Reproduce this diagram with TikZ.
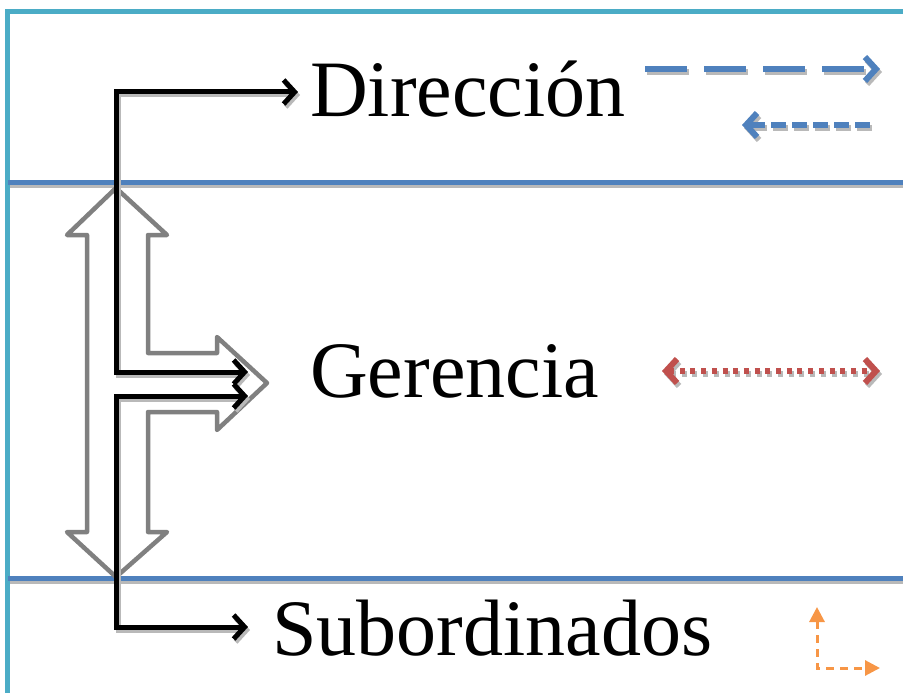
\documentclass[tikz,border=0pt]{standalone}
\usepackage{fontspec}
\setmainfont{Liberation Serif}
\usetikzlibrary{arrows.meta,calc}
\definecolor{frameblue}{HTML}{4BACC6}
\definecolor{bandblue}{HTML}{4F81BD}
\definecolor{dotred}{HTML}{C0504D}
\definecolor{dashorange}{HTML}{F79646}
\tikzset{
  band/.style={draw=bandblue,line width=5pt},
  barb/.tip={Straight Barb[length=11pt,width=24pt]},
  flow/.style={draw=black,line width=5pt,barb-barb},
  block/.style={draw=gray,line width=4.5pt,line join=round},
  levelname/.style={anchor=base west,inner sep=0pt,font=\fontsize{80}{96}\selectfont},
}
\newcommand{\shadowdraw}[2]{
  \draw[#1,draw=gray!55,transform canvas={shift={(2pt,-3pt)}}] #2;% shadow
  \draw[#1] #2;
}
\newcommand{\legendline}[3]{
  \coordinate (#1a) at #2;
  \coordinate (#1b) at #3;
}

\begin{document}
\begin{tikzpicture}[x=1pt,y=-1pt]
  \useasboundingbox (0,0) rectangle (903,693);
  \draw[frameblue,line width=5pt] (7,700) -- (7,12) -- (910,12);% outer frame
  \shadowdraw{band}{(8,182) -- (903,182)}% level borders
  \shadowdraw{band}{(8,578) -- (903,578)}

  % hollow arrow between the levels
  \draw[block] (116,188) -- (167,235) -- (148,235) -- (148,353) -- (217,353) -- (217,337)
    -- (267,383) -- (217,430) -- (217,412) -- (148,412) -- (148,532) -- (167,532)
    -- (116,577) -- (67,532) -- (87,532) -- (87,235) -- (67,235) -- cycle;

  \node[levelname] (dir) at (310,117) {Dirección};
  \node[levelname] (ger) at (310,397) {Gerencia};
  \node[levelname] (sub) at (272,655) {Subordinados};

  \coordinate (spine) at (116,0);
  \coordinate (dtip) at (298,92);
  \coordinate (gtipa) at (248,372);
  \coordinate (gtipb) at (248,396);
  \coordinate (stip) at (248,627);
  \shadowdraw{flow}{(dtip) -- (dtip -| spine) -- (gtipa -| spine) -- (gtipa)}
  \shadowdraw{flow}{(gtipb) -- (gtipb -| spine) -- (stip -| spine) -- (stip)}

  % legend arrows on the right
  \legendline{long}{(645,69)}{(880,69)}
  \legendline{short}{(870,125)}{(742,125)}
  \legendline{dots}{(662,371)}{(880,371)}
  \shadowdraw{bandblue,line width=6pt,dash pattern=on 42pt off 17pt,-barb}{(longa) -- (longb)}
  \shadowdraw{bandblue,line width=6pt,dash pattern=on 15pt off 6pt,-barb}{(shorta) -- (shortb)}
  \shadowdraw{dotred,line width=6pt,dash pattern=on 5pt off 5.7pt,barb-barb}{(dotsa) -- (dotsb)}
  \coordinate (corner) at (817,668);
  \draw[dashorange,line width=3pt,dash pattern=on 8pt off 6pt,
    {Triangle[length=15pt,width=15pt]}-{Triangle[length=15pt,width=15pt]}]
    (817,607) -- (corner) -- (880,668);
\end{tikzpicture}
\end{document}
